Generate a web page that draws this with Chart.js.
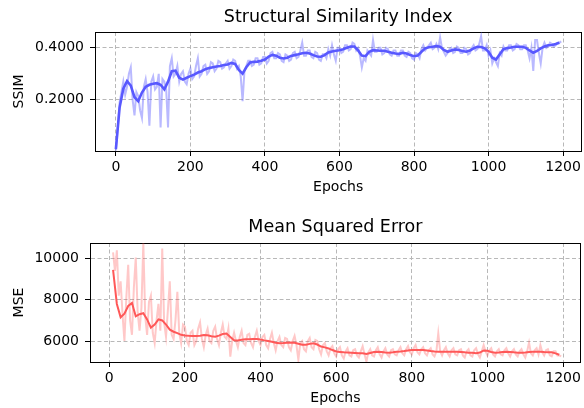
<!DOCTYPE html>
<html>
<head>
<meta charset="utf-8">
<script src="https://cdn.jsdelivr.net/npm/chart.js@4"></script>
<style>
  html, body { margin: 0; padding: 0; background: #fff; }
  #wrap { position: relative; width: 584px; height: 408px; }
  canvas { position: absolute; left: 0; }
</style>
</head>
<body>
<div id="wrap">
  <canvas id="ssim" width="584" height="204" style="top:0"></canvas>
  <canvas id="mse" width="584" height="204" style="top:204px"></canvas>
</div>
<script>
// Tick positions
const epochTicks = [0, 200, 400, 600, 800, 1000, 1200];
const ssimTicks = [0.2, 0.4];
const mseTicks = [6000, 8000, 10000];

// SSIM, raw values every 5 epochs, smoothed every 10
const ssimRawEpochs = [
  0, 5, 10, 15, 20, 25, 30, 35, 40, 45, 50, 55, 60, 65, 70, 75, 80, 85, 90, 95,
  100, 105, 110, 115, 120, 125, 130, 135, 140, 145, 150, 155, 160, 165, 170, 175, 180, 185, 190, 195,
  200, 205, 210, 215, 220, 225, 230, 235, 240, 245, 250, 255, 260, 265, 270, 275, 280, 285, 290, 295,
  300, 305, 310, 315, 320, 325, 330, 335, 340, 345, 350, 355, 360, 365, 370, 375, 380, 385, 390, 395,
  400, 405, 410, 415, 420, 425, 430, 435, 440, 445, 450, 455, 460, 465, 470, 475, 480, 485, 490, 495,
  500, 505, 510, 515, 520, 525, 530, 535, 540, 545, 550, 555, 560, 565, 570, 575, 580, 585, 590, 595,
  600, 605, 610, 615, 620, 625, 630, 635, 640, 645, 650, 655, 660, 665, 670, 675, 680, 685, 690, 695,
  700, 705, 710, 715, 720, 725, 730, 735, 740, 745, 750, 755, 760, 765, 770, 775, 780, 785, 790, 795,
  800, 805, 810, 815, 820, 825, 830, 835, 840, 845, 850, 855, 860, 865, 870, 875, 880, 885, 890, 895,
  900, 905, 910, 915, 920, 925, 930, 935, 940, 945, 950, 955, 960, 965, 970, 975, 980, 985, 990, 995,
  1000, 1005, 1010, 1015, 1020, 1025, 1030, 1035, 1040, 1045, 1050, 1055, 1060, 1065, 1070, 1075, 1080, 1085, 1090, 1095,
  1100, 1105, 1110, 1115, 1120, 1125, 1130, 1135, 1140, 1145, 1150, 1155, 1160, 1165, 1170, 1175, 1180, 1185, 1190, 1195
];
const ssimRaw = [
  0.005, 0.090, 0.190, 0.230, 0.270, 0.220, 0.250, 0.300, 0.325, 0.200, 0.140, 0.230, 0.215, 0.160, 0.130, 0.250, 0.280, 0.230, 0.100, 0.270,
  0.290, 0.240, 0.250, 0.300, 0.094, 0.280, 0.270, 0.240, 0.094, 0.330, 0.360, 0.290, 0.300, 0.330, 0.270, 0.300, 0.310, 0.270, 0.260, 0.300,
  0.320, 0.280, 0.290, 0.330, 0.360, 0.290, 0.300, 0.330, 0.335, 0.300, 0.310, 0.345, 0.340, 0.310, 0.320, 0.350, 0.345, 0.320, 0.325, 0.340,
  0.350, 0.320, 0.330, 0.355, 0.350, 0.320, 0.330, 0.290, 0.195, 0.310, 0.330, 0.350, 0.350, 0.330, 0.335, 0.360, 0.360, 0.335, 0.340, 0.365,
  0.365, 0.340, 0.350, 0.380, 0.385, 0.360, 0.360, 0.380, 0.375, 0.350, 0.345, 0.375, 0.370, 0.350, 0.355, 0.380, 0.385, 0.360, 0.365, 0.390,
  0.420, 0.370, 0.370, 0.390, 0.390, 0.365, 0.360, 0.385, 0.380, 0.355, 0.350, 0.375, 0.375, 0.360, 0.395, 0.370, 0.410, 0.375, 0.350, 0.400,
  0.400, 0.380, 0.385, 0.410, 0.410, 0.390, 0.395, 0.420, 0.415, 0.390, 0.400, 0.370, 0.325, 0.360, 0.350, 0.390, 0.380, 0.370, 0.430, 0.385,
  0.385, 0.400, 0.400, 0.375, 0.380, 0.400, 0.395, 0.375, 0.370, 0.390, 0.390, 0.370, 0.370, 0.390, 0.390, 0.370, 0.365, 0.385, 0.380, 0.360,
  0.355, 0.380, 0.375, 0.360, 0.395, 0.410, 0.390, 0.400, 0.410, 0.420, 0.395, 0.400, 0.415, 0.395, 0.440, 0.400, 0.385, 0.370, 0.380, 0.395,
  0.400, 0.380, 0.385, 0.405, 0.400, 0.380, 0.380, 0.400, 0.395, 0.375, 0.380, 0.400, 0.410, 0.390, 0.395, 0.415, 0.445, 0.390, 0.390, 0.410,
  0.370, 0.390, 0.340, 0.360, 0.345, 0.330, 0.380, 0.370, 0.405, 0.390, 0.390, 0.410, 0.410, 0.390, 0.395, 0.415, 0.410, 0.395, 0.395, 0.410,
  0.410, 0.390, 0.360, 0.400, 0.311, 0.430, 0.430, 0.380, 0.340, 0.400, 0.420, 0.400, 0.405, 0.420, 0.415, 0.405, 0.410, 0.420, 0.420, 0.425
];
const ssimEpochs = [
  0, 10, 20, 30, 40, 50, 60, 70, 80, 90,
  100, 110, 120, 130, 140, 150, 160, 170, 180, 190,
  200, 210, 220, 230, 240, 250, 260, 270, 280, 290,
  300, 310, 320, 330, 340, 350, 360, 370, 380, 390,
  400, 410, 420, 430, 440, 450, 460, 470, 480, 490,
  500, 510, 520, 530, 540, 550, 560, 570, 580, 590,
  600, 610, 620, 630, 640, 650, 660, 670, 680, 690,
  700, 710, 720, 730, 740, 750, 760, 770, 780, 790,
  800, 810, 820, 830, 840, 850, 860, 870, 880, 890,
  900, 910, 920, 930, 940, 950, 960, 970, 980, 990,
  1000, 1010, 1020, 1030, 1040, 1050, 1060, 1070, 1080, 1090,
  1100, 1110, 1120, 1130, 1140, 1150, 1160, 1170, 1180, 1190
];
const ssimSmooth = [
  0.010, 0.170, 0.243, 0.272, 0.255, 0.210, 0.195, 0.228, 0.250, 0.258,
  0.262, 0.264, 0.258, 0.240, 0.270, 0.310, 0.312, 0.285, 0.278, 0.285,
  0.291, 0.297, 0.305, 0.310, 0.318, 0.322, 0.325, 0.328, 0.330, 0.334,
  0.336, 0.342, 0.338, 0.315, 0.301, 0.325, 0.344, 0.346, 0.347, 0.350,
  0.355, 0.366, 0.373, 0.370, 0.362, 0.359, 0.362, 0.369, 0.372, 0.375,
  0.379, 0.381, 0.378, 0.372, 0.367, 0.366, 0.372, 0.382, 0.386, 0.389,
  0.391, 0.395, 0.400, 0.405, 0.405, 0.390, 0.370, 0.368, 0.385, 0.391,
  0.390, 0.389, 0.389, 0.385, 0.381, 0.378, 0.377, 0.381, 0.378, 0.372,
  0.368, 0.370, 0.385, 0.398, 0.402, 0.404, 0.407, 0.404, 0.392, 0.385,
  0.390, 0.394, 0.392, 0.388, 0.385, 0.390, 0.398, 0.404, 0.403, 0.398,
  0.385, 0.362, 0.355, 0.375, 0.395, 0.399, 0.401, 0.404, 0.404, 0.404,
  0.400, 0.390, 0.381, 0.388, 0.398, 0.405, 0.410, 0.411, 0.415, 0.420
];

// MSE, raw every 5 epochs, smoothed every 10
const mseRawEpochs = [
  10, 15, 20, 25, 30, 35, 40, 45, 50, 55, 60, 65, 70, 75, 80, 85, 90, 95,
  100, 105, 110, 115, 120, 125, 130, 135, 140, 145, 150, 155, 160, 165, 170, 175, 180, 185, 190, 195,
  200, 205, 210, 215, 220, 225, 230, 235, 240, 245, 250, 255, 260, 265, 270, 275, 280, 285, 290, 295,
  300, 305, 310, 315, 320, 325, 330, 335, 340, 345, 350, 355, 360, 365, 370, 375, 380, 385, 390, 395,
  400, 405, 410, 415, 420, 425, 430, 435, 440, 445, 450, 455, 460, 465, 470, 475, 480, 485, 490, 495,
  500, 505, 510, 515, 520, 525, 530, 535, 540, 545, 550, 555, 560, 565, 570, 575, 580, 585, 590, 595,
  600, 605, 610, 615, 620, 625, 630, 635, 640, 645, 650, 655, 660, 665, 670, 675, 680, 685, 690, 695,
  700, 705, 710, 715, 720, 725, 730, 735, 740, 745, 750, 755, 760, 765, 770, 775, 780, 785, 790, 795,
  800, 805, 810, 815, 820, 825, 830, 835, 840, 845, 850, 855, 860, 865, 870, 875, 880, 885, 890, 895,
  900, 905, 910, 915, 920, 925, 930, 935, 940, 945, 950, 955, 960, 965, 970, 975, 980, 985, 990, 995,
  1000, 1005, 1010, 1015, 1020, 1025, 1030, 1035, 1040, 1045, 1050, 1055, 1060, 1065, 1070, 1075, 1080, 1085, 1090, 1095,
  1100, 1105, 1110, 1115, 1120, 1125, 1130, 1135, 1140, 1145, 1150, 1155, 1160, 1165, 1170, 1175, 1180, 1185, 1190, 1195
];
const mseRaw = [
  10300, 9400, 10400, 8200, 8900, 7300, 6000, 8100, 9700, 7000, 6300, 8600, 10050, 7400, 6500, 7600, 10750, 7200,
  6300, 7900, 8200, 6400, 5900, 7000, 7800, 6500, 10490, 6900, 6200, 7500, 8900, 6300, 6100, 7000, 8390, 6400, 5900, 6800,
  6700, 6000, 5800, 6400, 6500, 5800, 6000, 6600, 6900, 6100, 5700, 6300, 6600, 6000, 5900, 6500, 6700, 6100, 5800, 6400,
  6800, 6200, 6100, 6600, 5240, 6000, 6400, 6000, 5700, 6200, 6500, 5900, 5800, 6300, 6350, 5900, 5700, 6200, 6500, 6000,
  5800, 6200, 6300, 5800, 5650, 6100, 6400, 5900, 5550, 6000, 6200, 5800, 5700, 6150, 6100, 5700, 5550, 6000, 6250, 5800,
  5080, 5900, 6000, 5600, 5500, 6000, 6150, 5700, 5600, 6050, 6000, 5600, 5350, 5800, 5900, 5500, 5300, 5650, 5750, 5400,
  5250, 5600, 5700, 5300, 5150, 5500, 5650, 5300, 5250, 5550, 5600, 5300, 5200, 5500, 5750, 5350, 5000, 5450, 5600, 5300,
  5250, 5550, 5700, 5350, 5200, 5500, 5650, 5350, 5250, 5550, 5600, 5350, 5300, 5550, 5700, 5400, 5300, 5600, 5750, 5450,
  5350, 5650, 5800, 5450, 5350, 5600, 5700, 5400, 5300, 5550, 5650, 5350, 5250, 5500, 6370, 5500, 5300, 5550, 5700, 5400,
  5250, 5550, 5650, 5350, 5300, 5550, 5600, 5300, 5200, 5500, 5600, 5300, 5250, 5550, 5650, 5350, 5200, 5500, 5800, 5500,
  5300, 5550, 5650, 5350, 5250, 5500, 5600, 5350, 5300, 5550, 5650, 5400, 5250, 5500, 5600, 5350, 5250, 5500, 5600, 5350,
  5200, 5500, 5920, 5400, 5300, 5550, 5650, 5350, 5800, 5450, 5300, 5550, 5600, 5300, 5250, 5500, 5500, 5300, 5300, 5250
];
const mseEpochs = [
  10, 20, 30, 40, 50, 60, 70, 80, 90,
  100, 110, 120, 130, 140, 150, 160, 170, 180, 190,
  200, 210, 220, 230, 240, 250, 260, 270, 280, 290,
  300, 310, 320, 330, 340, 350, 360, 370, 380, 390,
  400, 410, 420, 430, 440, 450, 460, 470, 480, 490,
  500, 510, 520, 530, 540, 550, 560, 570, 580, 590,
  600, 610, 620, 630, 640, 650, 660, 670, 680, 690,
  700, 710, 720, 730, 740, 750, 760, 770, 780, 790,
  800, 810, 820, 830, 840, 850, 860, 870, 880, 890,
  900, 910, 920, 930, 940, 950, 960, 970, 980, 990,
  1000, 1010, 1020, 1030, 1040, 1050, 1060, 1070, 1080, 1090,
  1100, 1110, 1120, 1130, 1140, 1150, 1160, 1170, 1180, 1190
];
const mseSmooth = [
  9450, 7800, 7150, 7330, 7700, 7850, 7200, 7300, 7350,
  7050, 6650, 6800, 7050, 7000, 6800, 6550, 6450, 6380, 6300,
  6270, 6250, 6240, 6240, 6260, 6290, 6280, 6230, 6210, 6260,
  6340, 6360, 6200, 6040, 6020, 6060, 6080, 6090, 6100, 6097,
  6070, 6030, 6000, 5960, 5920, 5890, 5900, 5920, 5925, 5915,
  5870, 5820, 5820, 5860, 5885, 5830, 5730, 5690, 5640, 5560,
  5490, 5470, 5450, 5440, 5430, 5420, 5410, 5400, 5370, 5420,
  5470, 5480, 5460, 5440, 5435, 5450, 5480, 5490, 5510, 5540,
  5560, 5565, 5565, 5560, 5540, 5510, 5485, 5480, 5480, 5480,
  5482, 5480, 5480, 5470, 5450, 5435, 5430, 5410, 5440, 5540,
  5530, 5470, 5435, 5440, 5465, 5480, 5470, 5450, 5435, 5430,
  5445, 5470, 5480, 5482, 5475, 5460, 5455, 5450, 5400, 5330
];

Chart.defaults.font.family = "'DejaVu Sans', sans-serif";
Chart.defaults.color = '#000';

const GRID = '#b8b8b8';

// pin an axis box to a fixed size so the plot area lands where the reference has it
function fixSize(w, h) {
  return function (scale) {
    if (w != null) scale.width = w;
    if (h != null) scale.height = h;
  };
}

function useTicks(values) {
  return function (scale) {
    scale.ticks = values.map(v => ({ value: v }));
  };
}

function points(xs, ys) {
  return xs.map((x, i) => ({ x: x, y: ys[i] }));
}

function makeChart(id, cfg) {
  const xRange = { type: 'linear', min: cfg.xMin, max: cfg.xMax };
  return new Chart(document.getElementById(id), {
    type: 'line',
    data: {
      datasets: [
        {
          data: points(cfg.xs, cfg.smooth),
          borderColor: cfg.color,
          borderWidth: cfg.smoothWidth,
          pointRadius: 0,
          tension: 0
        },
        {
          data: points(cfg.rawXs, cfg.raw),
          borderColor: cfg.rawColor,
          borderWidth: 2,
          pointRadius: 0,
          tension: 0
        }
      ]
    },
    options: {
      responsive: false,
      animation: false,
      devicePixelRatio: 1,
      layout: { padding: 0 },
      plugins: { legend: { display: false }, tooltip: { enabled: false } },
      scales: {
        x: Object.assign({}, xRange, {
          position: 'bottom',
          afterBuildTicks: useTicks(epochTicks),
          afterFit: fixSize(null, cfg.bottomH),
          ticks: { padding: 3, font: { size: 14 }, callback: v => String(v) },
          grid: { color: GRID, lineWidth: 1, tickLength: 5, tickColor: '#000', tickWidth: 1 },
          border: { display: true, color: '#000', width: 1, dash: [4, 2.5] },
          title: { display: true, text: 'Epochs', font: { size: 14 }, padding: { top: 0, bottom: cfg.xTitlePad } }
        }),
        xTop: Object.assign({}, xRange, {
          position: 'top',
          afterFit: fixSize(null, cfg.topH),
          ticks: { display: false },
          grid: { drawOnChartArea: false, drawTicks: false },
          border: { display: true, color: '#000', width: 1 },
          title: { display: true, text: cfg.title, font: { size: 17.5 }, padding: { top: cfg.titlePad, bottom: 0 } }
        }),
        y: {
          type: 'linear',
          position: 'left',
          min: cfg.yMin,
          max: cfg.yMax,
          afterBuildTicks: useTicks(cfg.yTicks),
          afterFit: fixSize(cfg.leftW, null),
          ticks: { padding: 6, font: { size: 14 }, callback: cfg.yFormat },
          grid: { color: GRID, lineWidth: 1, tickLength: 5, tickColor: '#000', tickWidth: 1 },
          border: { display: true, color: '#000', width: 1, dash: [4, 2.5] },
          title: { display: true, text: cfg.yLabel, font: { size: 14 }, padding: { top: 10.5, bottom: 0 } }
        },
        yRight: {
          type: 'linear',
          position: 'right',
          min: 0,
          max: 1,
          afterFit: fixSize(1, null),
          ticks: { display: false },
          grid: { drawOnChartArea: false, drawTicks: false },
          border: { display: true, color: '#000', width: 1 }
        }
      }
    }
  });
}

makeChart('ssim', {
  xs: ssimEpochs, smooth: ssimSmooth, rawXs: ssimRawEpochs, raw: ssimRaw,
  color: 'rgb(88,88,255)', rawColor: 'rgba(88,88,255,0.42)', smoothWidth: 2.6,
  title: 'Structural Similarity Index', yLabel: 'SSIM',
  xMin: -56, xMax: 1249, yMin: 0.003, yMax: 0.461, yTicks: ssimTicks,
  yFormat: v => v.toFixed(4),
  leftW: 95, topH: 32, bottomH: 53, titlePad: 6.5, xTitlePad: 8.6
});

makeChart('mse', {
  xs: mseEpochs, smooth: mseSmooth, rawXs: mseRawEpochs, raw: mseRaw,
  color: 'rgb(255,88,88)', rawColor: 'rgba(255,88,88,0.33)', smoothWidth: 2,
  title: 'Mean Squared Error', yLabel: 'MSE',
  xMin: -51, xMax: 1247, yMin: 4980, yMax: 10760, yTicks: mseTicks,
  yFormat: v => String(v),
  leftW: 90, topH: 39, bottomH: 46, titlePad: 12.5, xTitlePad: 1.6
});
</script>
</body>
</html>
